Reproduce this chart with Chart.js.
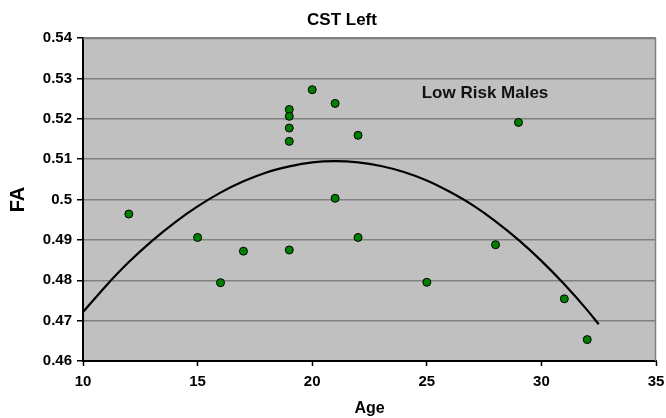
<!DOCTYPE html>
<html>
<head>
<meta charset="utf-8">
<script src="https://cdn.jsdelivr.net/npm/chart.js@4/dist/chart.umd.min.js"></script>
<style>
html,body{margin:0;padding:0;background:#fff;}
#wrap{width:666px;height:418px;}
</style>
</head>
<body>
<div id="wrap"><canvas id="c" width="666" height="418"></canvas></div>
<script>
// Observed data (Age vs FA)
const ages = [12, 15, 16, 17, 19, 19, 19, 19, 19, 20, 21, 21, 22, 22, 25, 28, 29, 31, 32];
const faValues = [0.4964, 0.4906, 0.4794, 0.4872, 0.4875, 0.5223, 0.5206, 0.5177, 0.5144, 0.5272, 0.5238, 0.5003, 0.5159, 0.4906, 0.4795, 0.4888, 0.5191, 0.4754, 0.4653];

// Trendline
const trendAges = [10, 11, 12, 13, 14, 15, 16, 17, 18, 19, 20, 21, 22, 23, 24, 25, 26, 27, 28, 29, 30, 31, 32, 32.5];
const trendFA = [0.4721, 0.4786, 0.4845, 0.4897, 0.4943, 0.4983, 0.5017, 0.5045, 0.5067, 0.5082, 0.5092, 0.5095, 0.5092, 0.5083, 0.5068, 0.5047, 0.5019, 0.4986, 0.4946, 0.4900, 0.4848, 0.4790, 0.4726, 0.4691];

// Axis ticks
const xTicks = [10, 15, 20, 25, 30, 35];
const yTicks = [0.46, 0.47, 0.48, 0.49, 0.5, 0.51, 0.52, 0.53, 0.54];

const chartTitle = "CST Left";
const annotationText = "Low Risk Males";
const annotationPos = [27.54, 0.5263];

const FONT = "'Liberation Sans', Arial, sans-serif";

const bgPlugin = {
  id: 'bg',
  beforeDraw(chart) {
    const {ctx, chartArea: a} = chart;
    ctx.save();
    ctx.fillStyle = '#c0c0c0';
    ctx.fillRect(a.left, a.top, a.right - a.left, a.bottom - a.top);
    ctx.restore();
  },
  afterDatasetsDraw(chart) {
    const {ctx, chartArea: a} = chart;
    ctx.save();
    ctx.strokeStyle = '#808080';
    ctx.lineWidth = 1.5;
    ctx.beginPath();
    ctx.moveTo(a.left, a.top + 0.5);
    ctx.lineTo(a.right - 0.5, a.top + 0.5);
    ctx.lineTo(a.right - 0.5, a.bottom);
    ctx.stroke();
    // title
    ctx.fillStyle = '#000';
    ctx.font = "bold 17px " + FONT;
    ctx.textAlign = 'center';
    ctx.textBaseline = 'middle';
    ctx.fillText(chartTitle, 342, 20);
    // annotation
    const xs = chart.scales.x, ys = chart.scales.y;
    ctx.fillStyle = '#111';
    ctx.font = "bold 17px " + FONT;
    ctx.fillText(annotationText, xs.getPixelForValue(annotationPos[0]), ys.getPixelForValue(annotationPos[1]));
    ctx.restore();
  }
};

new Chart(document.getElementById('c'), {
  type: 'scatter',
  data: {
    datasets: [
      {
        label: 'FA',
        data: ages.map((a, i) => ({x: a, y: faValues[i]})),
        backgroundColor: '#008000',
        borderColor: '#000',
        borderWidth: 1,
        pointRadius: 4,
        pointHoverRadius: 4,
        order: 0
      },
      {
        label: 'Trend',
        data: trendAges.map((a, i) => ({x: a, y: trendFA[i]})),
        showLine: true,
        borderColor: '#000',
        borderWidth: 2.2,
        pointRadius: 0,
        cubicInterpolationMode: 'monotone',
        fill: false,
        order: 1
      }
    ]
  },
  options: {
    responsive: false,
    animation: false,
    devicePixelRatio: 1,
    layout: {autoPadding: false, padding: {top: 38, right: 10, left: 0, bottom: 0}},
    plugins: {
      legend: {display: false},
      title: {display: false},
      tooltip: {enabled: false}
    },
    scales: {
      x: {
        type: 'linear',
        min: 10, max: 35,
        afterBuildTicks: (axis) => { axis.ticks = xTicks.map(v => ({value: v})); },
        afterFit: (s) => { s.height = 57; s.paddingRight = 0; s.paddingLeft = 0; },
        grid: {drawOnChartArea: false, drawTicks: true, tickLength: 5, tickColor: '#000', tickWidth: 1.5},
        border: {color: '#000', width: 2},
        ticks: {color: '#000', font: {family: FONT, size: 15, weight: 'bold'}, padding: 7, maxRotation: 0,
          callback: (v) => String(v)},
        title: {display: true, text: 'Age', color: '#000', font: {family: FONT, size: 16, weight: 'bold'}, padding: {top: 0, bottom: 0}}
      },
      y: {
        type: 'linear',
        min: 0.46, max: 0.54,
        afterBuildTicks: (axis) => { axis.ticks = yTicks.map(v => ({value: v})); },
        afterFit: (s) => { s.width = 83; s.paddingTop = 0; s.paddingBottom = 0; },
        grid: {color: '#808080', lineWidth: 1.5, drawTicks: true, tickLength: 6, tickColor: '#000', tickWidth: 1.5},
        border: {color: '#000', width: 2},
        ticks: {color: '#000', font: {family: FONT, size: 15, weight: 'bold'}, padding: 5,
          callback: (v) => String(parseFloat(Number(v).toFixed(2)))},
        title: {display: true, text: 'FA', color: '#000', font: {family: FONT, size: 20, weight: 'bold'}, padding: {top: 6, bottom: 0}}
      }
    }
  },
  plugins: [bgPlugin]
});
</script>
</body>
</html>
